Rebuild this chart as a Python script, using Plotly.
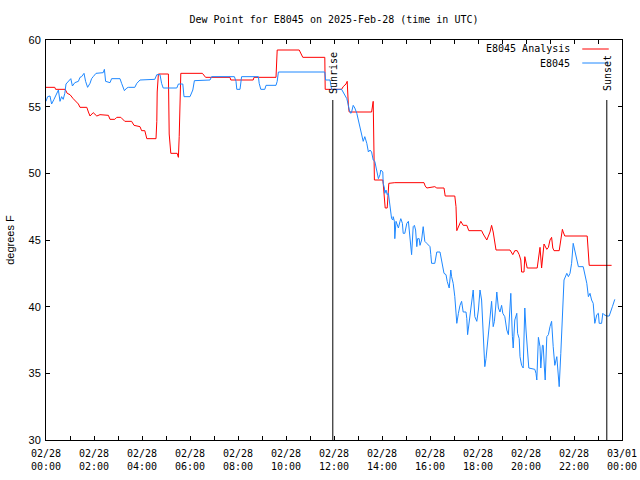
import pandas as pd
import plotly.graph_objects as go

# ---------------- data (minutes after 2025-02-28 00:00 UTC, degrees F) ----------------
analysis_min = [0, 22, 24, 48, 53, 60, 68, 74, 81, 85, 102, 106, 110, 118, 127, 135, 156, 160, 172, 177,
                187, 197, 214, 220, 235, 239, 247, 252, 275, 277, 278, 281, 306, 308, 312, 328, 331, 333,
                335, 337, 391, 399, 460, 462, 518, 520, 575, 578, 633, 637, 642, 697, 698, 739, 743, 750,
                753, 756, 758, 814, 817, 818, 821, 842, 843, 846, 848, 853, 855, 857, 872, 945, 948, 952,
                972, 977, 995, 998, 1022, 1025, 1027, 1031, 1037, 1043, 1052, 1057, 1089, 1093, 1102,
                1110, 1114, 1118, 1122, 1125, 1160, 1167, 1172, 1178, 1183, 1187, 1189, 1195, 1197, 1200,
                1203, 1228, 1231, 1235, 1239, 1242, 1245, 1252, 1256, 1260, 1264, 1267, 1270, 1283, 1287,
                1291, 1293, 1297, 1353, 1356, 1358, 1414]
analysis_val = [56.45, 56.45, 56.3, 56.3, 56.0, 55.9, 55.6, 55.4, 55.2, 54.95, 54.95, 54.6, 54.3, 54.55,
                54.3, 54.4, 54.35, 54.05, 54.05, 54.2, 54.2, 53.9, 53.9, 53.6, 53.5, 53.2, 53.2, 52.6, 52.6,
                53.9, 56.1, 57.45, 57.45, 52.95, 51.5, 51.5, 51.2, 52.75, 55.75, 57.5, 57.5, 57.2, 57.2,
                57.0, 57.0, 57.2, 57.2, 59.25, 59.25, 58.95, 58.7, 58.7, 56.3, 56.3, 56.5, 56.7, 56.9,
                55.05, 54.6, 54.6, 55.05, 55.4, 49.5, 49.5, 49.25, 48.0, 47.4, 47.4, 48.4, 49.25, 49.3,
                49.3, 49.05, 48.9, 49.0, 48.9, 48.9, 48.3, 48.3, 47.5, 45.7, 46.0, 46.4, 46.1, 46.1, 45.7,
                45.7, 45.45, 45.0, 45.6, 46.1, 45.6, 44.9, 44.25, 44.25, 43.9, 44.2, 44.2, 43.9, 43.5,
                42.6, 42.6, 43.75, 43.4, 42.9, 42.9, 43.75, 44.45, 42.9, 44.2, 44.7, 44.3, 44.45, 45.0,
                45.2, 44.4, 44.2, 44.2, 45.0, 45.8, 45.6, 45.3, 45.3, 44.25, 43.1, 43.1]

station_min = [0, 4, 10, 14, 20, 27, 31, 35, 39, 43, 47, 50, 56, 62, 66, 72, 81, 85, 89, 95, 99, 104, 110,
               114, 118, 125, 143, 146, 149, 160, 164, 185, 189, 196, 202, 206, 222, 227, 235, 272, 277,
               285, 289, 293, 327, 331, 342, 345, 360, 367, 371, 410, 414, 471, 475, 477, 485, 489, 531,
               533, 537, 547, 550, 575, 578, 581, 697, 699, 710, 714, 739, 743, 747, 752, 756, 758, 762,
               764, 768, 772, 777, 781, 785, 789, 793, 797, 802, 806, 810, 814, 818, 822, 827, 831, 835,
               837, 842, 843, 846, 847, 850, 853, 856, 858, 862, 864, 867, 868, 871, 872, 875, 878, 881,
               885, 887, 891, 893, 897, 902, 906, 908, 912, 914, 918, 921, 924, 927, 929, 933, 935, 939,
               943, 947, 952, 960, 962, 964, 972, 977, 985, 987, 992, 995, 1000, 1003, 1008, 1012, 1014,
               1018, 1022, 1027, 1031, 1035, 1039, 1043, 1050, 1052, 1054, 1058, 1064, 1068, 1072, 1077,
               1081, 1085, 1089, 1093, 1097, 1100, 1103, 1106, 1108, 1112, 1114, 1118, 1121, 1124, 1127,
               1131, 1135, 1139, 1142, 1147, 1152, 1156, 1160, 1162, 1166, 1168, 1172, 1177, 1179, 1183,
               1185, 1189, 1193, 1197, 1200, 1204, 1207, 1222, 1225, 1227, 1231, 1235, 1237, 1241, 1243,
               1246, 1248, 1252, 1256, 1260, 1264, 1268, 1272, 1277, 1281, 1283, 1287, 1289, 1292, 1295,
               1302, 1306, 1310, 1314, 1318, 1322, 1327, 1331, 1343, 1347, 1352, 1356, 1360, 1364, 1368,
               1372, 1377, 1381, 1383, 1389, 1392, 1395, 1402, 1408, 1412, 1416, 1422]
station_val = [55.4, 55.75, 55.8, 55.2, 55.55, 56.0, 56.25, 55.4, 55.75, 55.55, 56.0, 56.7, 56.9, 57.1,
               56.55, 56.8, 56.9, 57.2, 57.25, 57.5, 56.9, 56.45, 56.75, 57.1, 57.25, 57.5, 57.55, 57.8,
               56.9, 56.8, 57.1, 57.1, 56.75, 56.2, 56.4, 56.45, 56.45, 56.75, 57.0, 57.05, 57.4, 57.4,
               56.75, 56.4, 56.4, 56.7, 56.7, 55.75, 55.75, 56.25, 56.95, 57.0, 57.25, 57.25, 56.9, 56.3,
               56.3, 57.25, 57.25, 56.75, 56.3, 56.3, 56.6, 56.6, 56.9, 57.6, 57.6, 57.0, 57.0, 56.3,
               56.3, 56.1, 55.95, 55.6, 55.1, 54.75, 54.5, 54.6, 55.1, 54.9, 54.5, 54.0, 53.4, 53.1,
               52.4, 52.75, 52.25, 51.6, 51.75, 51.6, 51.0, 50.9, 50.25, 49.6, 49.9, 50.25, 50.1, 49.25,
               48.9, 48.5, 48.75, 48.4, 48.5, 47.9, 47.25, 46.6, 46.5, 46.75, 46.4, 45.1, 46.4, 46.1,
               45.9, 46.4, 46.6, 46.25, 45.5, 45.5, 46.25, 46.4, 45.6, 44.5, 43.9, 46.0, 46.1, 45.75,
               44.5, 45.1, 45.1, 44.6, 45.0, 46.0, 44.9, 44.75, 44.5, 43.9, 43.25, 43.25, 44.1, 44.1,
               43.75, 42.75, 42.5, 42.4, 41.9, 41.4, 42.75, 42.25, 41.75, 40.75, 38.75, 39.5, 40.1,
               40.4, 39.6, 39.6, 39.1, 37.9, 38.9, 40.5, 41.25, 39.25, 38.9, 39.75, 41.25, 40.5, 37.75,
               35.5, 36.1, 37.0, 37.75, 38.25, 39.75, 40.4, 38.5, 38.9, 39.9, 41.1, 39.9, 39.6, 40.1,
               39.5, 39.25, 38.25, 37.9, 40.0, 41.0, 37.75, 36.9, 39.0, 39.5, 38.0, 37.6, 36.25, 35.6,
               35.4, 39.9, 38.25, 36.4, 35.4, 35.3, 35.0, 34.5, 37.7, 37.0, 35.4, 37.1, 37.1, 35.4,
               34.5, 37.75, 37.9, 38.5, 38.9, 37.0, 35.6, 36.25, 34.9, 34.0, 36.5, 38.0, 40.4, 42.0,
               42.5, 42.25, 42.5, 43.25, 44.75, 44.25, 43.5, 43.0, 43.0, 42.4, 41.75, 40.75, 41.0, 40.5,
               40.25, 38.75, 39.4, 39.5, 38.75, 38.75, 39.5, 39.4, 39.3, 39.3, 39.6, 40.0, 40.55]

sunrise_min = 717   # 11:57 UTC
sunset_min = 1402   # 23:22 UTC
tick_hours = list(range(0, 25))
series_names = ["E8045 Analysis", "E8045"]
title_text = "Dew Point for E8045 on 2025-Feb-28 (time in UTC)"
y_label = "degrees F"

# ---------------- figure ----------------
base = pd.Timestamp("2025-02-28 00:00")
to_time = lambda mins: [base + pd.Timedelta(minutes=m) for m in mins]

RED = "#ff0000"
BLUE = "#1e88ff"
MONO = "DejaVu Sans Mono"

W, H = 640, 480
L, R, T, B = 46, 18, 40, 40

fig = go.Figure()
fig.add_trace(go.Scatter(x=to_time(analysis_min), y=analysis_val, mode="lines",
                         line=dict(color=RED, width=1), name=series_names[0], showlegend=False))
fig.add_trace(go.Scatter(x=to_time(station_min), y=station_val, mode="lines",
                         line=dict(color=BLUE, width=1), name=series_names[1], showlegend=False))

tickvals = [base + pd.Timedelta(hours=h) for h in tick_hours]
ticktext = []
for h, tv in zip(tick_hours, tickvals):
    ticktext.append(tv.strftime("%m/%d") + "<br>" + tv.strftime("%H:%M") if h % 2 == 0 else "")

# sunrise / sunset markers
for mins, label in [(sunrise_min, "Sunrise"), (sunset_min, "Sunset")]:
    t = base + pd.Timedelta(minutes=mins)
    fig.add_shape(type="line", xref="x", yref="paper", x0=t, x1=t, y0=0, y1=0.85,
                  line=dict(color="black", width=1))
    fig.add_annotation(x=t, xref="x", y=0.917, yref="paper", text=label, textangle=-90,
                       showarrow=False, xanchor="center", yanchor="middle",
                       font=dict(family=MONO, size=10, color="black"))

# custom legend (text left, sample line right, as in gnuplot)
for i, (name, col) in enumerate(zip(series_names, [RED, BLUE])):
    yy = 0.9775 - i * 0.035
    fig.add_annotation(x=0.914, xref="paper", y=yy, yref="paper", text=name, showarrow=False,
                       xanchor="right", yanchor="middle", font=dict(family=MONO, size=10, color="black"))
    fig.add_shape(type="line", xref="paper", yref="paper", x0=0.931, x1=0.977, y0=yy, y1=yy,
                  line=dict(color=col, width=1))

fig.update_layout(
    width=W, height=H, autosize=False,
    margin=dict(l=L, r=R, t=T, b=B, pad=0, autoexpand=False),
    plot_bgcolor="white", paper_bgcolor="white",
    title=dict(text=title_text, x=(L + (W - R)) / 2 / W, xanchor="center", y=1 - 19 / H,
               yanchor="middle", font=dict(family=MONO, size=10, color="black"), automargin=False),
    font=dict(family=MONO, size=10, color="black"),
    xaxis=dict(range=[base, base + pd.Timedelta(hours=24)], tickmode="array", tickvals=tickvals,
               ticktext=ticktext, ticks="inside", ticklen=4, tickcolor="black", showline=True,
               linecolor="black", linewidth=1, mirror="ticks", showgrid=False, zeroline=False,
               tickfont=dict(family=MONO, size=10), tickangle=0, automargin=False,
               ticklabelstandoff=4),
    yaxis=dict(range=[30, 60], tickmode="linear", tick0=30, dtick=5, ticks="inside", ticklen=4,
               tickcolor="black", showline=True, linecolor="black", linewidth=1, mirror="ticks",
               showgrid=False, zeroline=False, tickfont=dict(family="Liberation Sans", size=11),
               automargin=False, ticklabelstandoff=2,
               title=dict(text=y_label, font=dict(family="Liberation Sans", size=11), standoff=11)),
)

# remove the browser's default 8px page margin so the 640x480 figure fills the window exactly
fig.write_html("out.html", config={"displayModeBar": False},
               post_script="document.body.style.margin='0';document.body.style.overflow='hidden';")
